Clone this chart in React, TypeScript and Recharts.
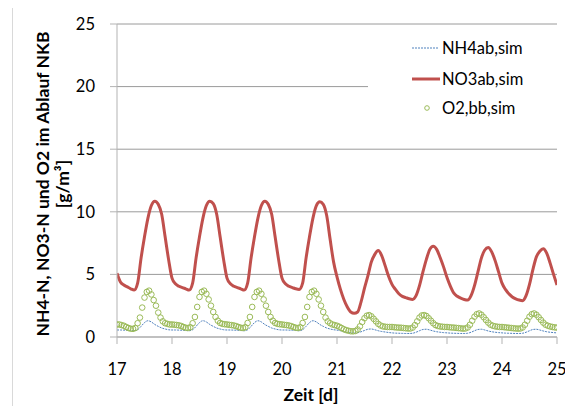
import React from 'react';
import { ComposedChart, Line, XAxis, YAxis, CartesianGrid, Legend } from 'recharts';

// Simulated effluent of the NKB, days 17–25
const START_DAY = 17;
const LINE_STEP_D = 1 / 16; // NH4 / NO3 output every 1.5 h
const O2_STEP_D = 1 / 24; // O2 output every hour

const DAY_TICKS = [17, 18, 19, 20, 21, 22, 23, 24, 25];
const CONC_TICKS = [0, 5, 10, 15, 20, 25];

// NO3ab,sim [g/m³], 16 values per day
const no3 = [
  5.1, 4.4, 4.15, 4.0, 3.85, 3.75, 4.3, 6.3, 8.0, 9.5, 10.5, 10.85, 10.6, 9.8, 8.0, 6.2,
  4.7, 4.25, 4.05, 3.95, 3.85, 3.75, 4.3, 6.3, 8.0, 9.5, 10.5, 10.85, 10.65, 9.8, 8.0, 6.2,
  4.7, 4.25, 4.05, 3.95, 3.85, 3.75, 4.3, 6.3, 8.0, 9.5, 10.5, 10.85, 10.6, 9.8, 8.0, 6.2,
  4.7, 4.25, 4.05, 3.95, 3.85, 3.8, 4.3, 6.3, 8.0, 9.5, 10.5, 10.8, 10.6, 9.7, 7.8, 6.0,
  4.8, 3.8, 3.0, 2.4, 2.0, 1.9, 2.0, 2.8, 3.9, 4.9, 6.0, 6.6, 6.9, 6.5, 5.7, 4.85,
  4.2, 3.8, 3.45, 3.25, 3.15, 3.05, 3.0, 3.3, 4.1, 5.2, 6.2, 7.0, 7.25, 7.0, 6.35, 5.6,
  4.75, 4.05, 3.5, 3.25, 3.1, 3.0, 2.95, 3.3, 4.1, 5.2, 6.3, 6.95, 7.15, 6.8, 6.1, 5.2,
  4.3, 3.8, 3.45, 3.2, 3.05, 2.95, 2.9, 3.3, 4.2, 5.4, 6.4, 6.85, 7.05, 6.7, 5.9, 5.0,
  4.15,
];

// NH4ab,sim [g/m³], 16 values per day
const nh4 = [
  0.56, 0.56, 0.55, 0.54, 0.52, 0.5, 0.58, 0.85, 1.15, 1.3, 1.2, 1.0, 0.85, 0.72, 0.64, 0.58,
  0.56, 0.56, 0.55, 0.54, 0.52, 0.5, 0.58, 0.85, 1.15, 1.3, 1.2, 1.0, 0.85, 0.72, 0.64, 0.58,
  0.56, 0.56, 0.55, 0.54, 0.52, 0.5, 0.58, 0.85, 1.15, 1.3, 1.2, 1.0, 0.85, 0.72, 0.64, 0.58,
  0.56, 0.56, 0.55, 0.54, 0.52, 0.5, 0.58, 0.85, 1.15, 1.3, 1.2, 1.0, 0.85, 0.72, 0.64, 0.58,
  0.55, 0.5, 0.42, 0.36, 0.33, 0.32, 0.34, 0.42, 0.52, 0.62, 0.64, 0.58, 0.5, 0.44, 0.4, 0.36,
  0.33, 0.31, 0.3, 0.29, 0.28, 0.28, 0.3, 0.38, 0.5, 0.6, 0.62, 0.56, 0.48, 0.42, 0.38, 0.35,
  0.33, 0.31, 0.3, 0.29, 0.28, 0.28, 0.3, 0.38, 0.5, 0.6, 0.62, 0.56, 0.48, 0.42, 0.38, 0.35,
  0.33, 0.31, 0.3, 0.29, 0.28, 0.28, 0.3, 0.38, 0.5, 0.6, 0.62, 0.56, 0.48, 0.42, 0.38, 0.35,
  0.33,
];

// O2,bb,sim [g/m³], 24 values per day
const o2 = [
  1.0, 1.0, 0.95, 0.9, 0.8, 0.72, 0.66, 0.65, 0.72, 1.1, 1.55, 2.35, 3.15, 3.6, 3.7, 3.4, 2.95, 2.5, 1.95, 1.55, 1.25, 1.1, 1.05, 1.0,
  1.0, 0.98, 0.96, 0.93, 0.88, 0.8, 0.74, 0.72, 0.78, 1.1, 1.6, 2.4, 3.2, 3.6, 3.7, 3.45, 3.0, 2.5, 2.0, 1.6, 1.3, 1.12, 1.05, 1.02,
  1.0, 0.97, 0.95, 0.92, 0.87, 0.8, 0.74, 0.72, 0.78, 1.12, 1.6, 2.4, 3.2, 3.6, 3.7, 3.45, 3.0, 2.5, 2.0, 1.6, 1.3, 1.12, 1.05, 1.02,
  1.0, 0.97, 0.95, 0.92, 0.87, 0.8, 0.74, 0.72, 0.78, 1.12, 1.6, 2.4, 3.2, 3.6, 3.7, 3.45, 3.0, 2.5, 2.0, 1.55, 1.25, 1.1, 1.0, 0.95,
  0.9, 0.82, 0.72, 0.62, 0.55, 0.5, 0.46, 0.45, 0.48, 0.6, 0.85, 1.2, 1.5, 1.7, 1.75, 1.65, 1.45, 1.25, 1.05, 0.92, 0.85, 0.82, 0.8, 0.8,
  0.8, 0.78, 0.76, 0.75, 0.74, 0.72, 0.7, 0.68, 0.68, 0.75, 0.95, 1.25, 1.55, 1.72, 1.75, 1.68, 1.5, 1.3, 1.1, 0.95, 0.88, 0.84, 0.82, 0.8,
  0.8, 0.78, 0.76, 0.75, 0.73, 0.71, 0.69, 0.67, 0.68, 0.76, 0.98, 1.3, 1.62, 1.82, 1.88, 1.78, 1.58, 1.36, 1.15, 0.98, 0.9, 0.85, 0.82, 0.8,
  0.8, 0.78, 0.76, 0.74, 0.72, 0.7, 0.68, 0.67, 0.68, 0.76, 0.98, 1.3, 1.62, 1.82, 1.88, 1.78, 1.58, 1.36, 1.15, 0.98, 0.9, 0.84, 0.8, 0.77,
  0.75,
];

const SERIES_NAMES = ['NH4ab,sim', 'NO3ab,sim', 'O2,bb,sim'];

const NH4_COLOR = '#4F81BD';
const NO3_COLOR = '#C0504D';
const O2_COLOR = '#9BBB59';
const FONT = 'Lato, "Open Sans", sans-serif';

const lineRows = no3.map((v, i) => ({ t: START_DAY + i * LINE_STEP_D, no3: v, nh4: nh4[i] }));
const o2Rows = o2.map((v, i) => ({ t: START_DAY + i * O2_STEP_D, o2: v }));

const LegendBox = () => (
  <div style={{ position: 'relative', width: 189, height: 95, background: '#fff', fontFamily: FONT, fontSize: 16.5, color: '#000' }}>
    {SERIES_NAMES.map((name, i) => (
      <div key={name} style={{ position: 'absolute', left: 44, top: [8, 39, 68][i], height: 20, display: 'flex', alignItems: 'center' }}>
        <svg width={28} height={20}>
          {i === 0 && <line x1={0} y1={10} x2={26} y2={10} stroke={NH4_COLOR} strokeWidth={1} strokeDasharray="2 1" />}
          {i === 1 && <line x1={0} y1={10} x2={28} y2={10} stroke={NO3_COLOR} strokeWidth={3} />}
          {i === 2 && <circle cx={15} cy={10} r={2.3} fill="none" stroke={O2_COLOR} strokeWidth={1} />}
        </svg>
        <span style={{ marginLeft: 2, whiteSpace: 'nowrap' }}>{name}</span>
      </div>
    ))}
  </div>
);

const YTitle = () => (
  <text fontFamily={FONT} fontWeight="bold" fontSize={17.5} fill="#000" textAnchor="middle" transform="translate(43,184) rotate(-90)">
    <tspan x={0} dy={6}>NH4-N, NO3-N und O2 im Ablauf NKB</tspan>
    <tspan x={0} dy={20}>[g/m³]</tspan>
  </text>
);

const XTitle = () => (
  <text x={311} y={401} fontFamily={FONT} fontWeight="bold" fontSize={17.5} fill="#000" textAnchor="middle">
    Zeit [d]
  </text>
);

export default function App() {
  return (
    <div style={{ position: 'relative', width: 573, height: 414, margin: -8, background: '#fff', overflow: 'hidden' }}>
      <div style={{ position: 'absolute', left: 12, top: 7, right: -20, bottom: -20, borderLeft: '1px solid #d9d9d9', borderTop: '1px solid #d9d9d9' }} />
      <ComposedChart width={573} height={414} margin={{ top: 24, right: 16, bottom: 47, left: 57 }} style={{ position: 'absolute', left: 0, top: 0 }}>
        <CartesianGrid vertical={false} stroke="#9a9a9a" strokeWidth={1} />
        <XAxis
          dataKey="t"
          type="number"
          domain={[17, 25]}
          ticks={DAY_TICKS}
          allowDataOverflow
          height={30}
          tickSize={7}
          tickMargin={19}
          stroke="#b3b3b3"
          tick={{ fontFamily: FONT, fontSize: 16.5, fill: '#000' }}
          label={{ content: XTitle }}
        />
        <YAxis
          type="number"
          domain={[0, 25]}
          ticks={CONC_TICKS}
          width={60}
          tickSize={7}
          tickMargin={15}
          stroke="#b3b3b3"
          tick={{ fontFamily: FONT, fontSize: 16.5, fill: '#000' }}
          label={{ content: YTitle }}
        />
        <Legend
          layout="vertical"
          align="center"
          verticalAlign="middle"
          content={LegendBox}
          wrapperStyle={{ left: 368, top: 30, width: 189, height: 95 }}
        />
        <Line data={lineRows} dataKey="nh4" type="monotone" stroke={NH4_COLOR} strokeWidth={1} strokeDasharray="2 1" dot={false} isAnimationActive={false} />
        <Line data={lineRows} dataKey="no3" type="monotone" stroke={NO3_COLOR} strokeWidth={3} dot={false} isAnimationActive={false} />
        <Line
          data={o2Rows}
          dataKey="o2"
          stroke="none"
          dot={{ r: 2.8, fill: 'none', stroke: O2_COLOR, strokeWidth: 1 }}
          isAnimationActive={false}
        />
      </ComposedChart>
    </div>
  );
}
